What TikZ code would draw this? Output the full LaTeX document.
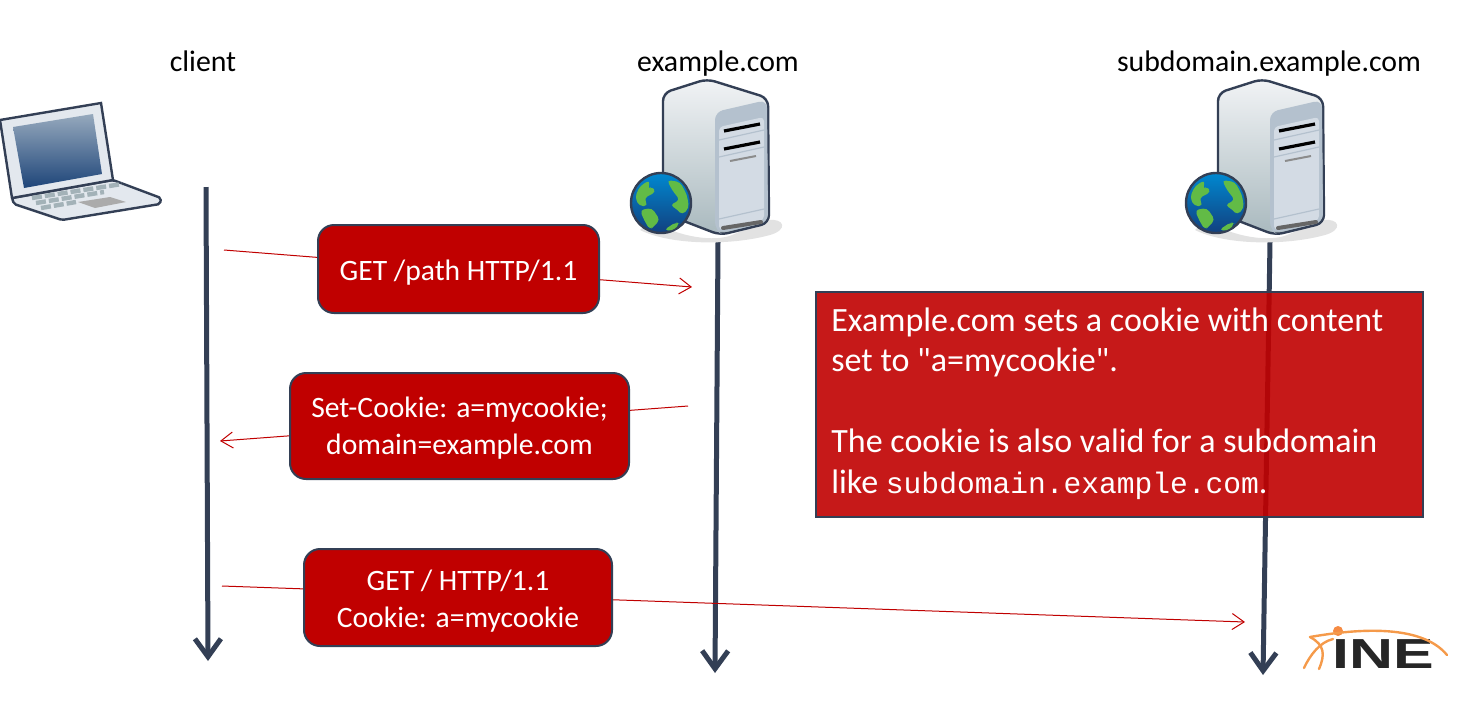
\documentclass[tikz,border=0pt]{standalone}
\usepackage{fontspec}
\setmainfont{Carlito}
\setmonofont{Liberation Mono}
\newfontfamily\notefont{Carlito}
\newfontfamily\logofont{Liberation Sans}
\usetikzlibrary{arrows.meta}
\definecolor{linedark}{HTML}{333F55}
\definecolor{boxred}{HTML}{C00000}
\definecolor{msgred}{HTML}{C00000}
\definecolor{logoorange}{HTML}{F59A4A}
\definecolor{shadowgrey}{HTML}{E2E2E2}
\definecolor{bodytop}{HTML}{F1F3F5}
\definecolor{bodybottom}{HTML}{A9B9BE}
\definecolor{paneltop}{HTML}{B4C1CE}
\definecolor{panellight}{HTML}{D3DBE4}
\definecolor{globetop}{HTML}{0088D0}
\definecolor{globebottom}{HTML}{12407F}
\definecolor{globeland}{HTML}{62BB46}
\definecolor{screentop}{HTML}{96A9BD}
\definecolor{screenbottom}{HTML}{1E4579}
\definecolor{lidgrey}{HTML}{E3E8EE}
\definecolor{keygrey}{HTML}{A3B2B8}
\tikzset{
  lifeline/.style={draw=linedark,line width=2.5pt,-{Straight Barb[length=9pt,width=13pt,line width=2.5pt]}},
  msgline/.style={draw=msgred,line width=0.5pt,-{Straight Barb[length=6pt,width=8pt,line width=0.5pt]}},
  msgbox/.style={draw=linedark,line width=1pt,fill=boxred,rounded corners=8pt,text=white,align=center,font=\fontsize{14.8}{18.2}\selectfont,inner sep=0pt},
  hostlabel/.style={font=\fontsize{14.9}{16}\selectfont,text=black,anchor=base},
  swoosh/.style={draw=logoorange,line width=1.2pt,line cap=round},
  land/.style={fill=globeland,rounded corners=2pt},
  server/.pic={
    \fill[shadowgrey] (30,150) .. controls (60,168) and (95,172) .. (112,165) -- (148,150) .. controls (165,148) and (168,160) .. (150,165) .. controls (110,176) and (50,175) .. (20,160) -- cycle;
    \draw[linedark,line width=1.2pt,top color=bodytop,bottom color=bodybottom,rounded corners=4pt] (43,23) -- (87,9) -- (148,28) -- (149,153) -- (100,165) -- (43,143) -- cycle;
    \fill[paneltop,rounded corners=4pt] (95,42) -- (147,30) -- (148,152) -- (100,163) -- (95,160) -- cycle;
    \fill[panellight,rounded corners=2pt] (99,57) -- (144,47) -- (144,150) -- (99,160) -- cycle;
    \draw[paneltop,line width=0.6pt] (99,70) -- (144,60);
    \draw[paneltop,line width=0.6pt] (99,87) -- (144,77);
    \draw[paneltop,line width=0.6pt] (99,149) -- (144,139);
    \draw[black,line width=1.6pt] (104,61) -- (140,54);
    \draw[black,line width=1.6pt] (104,79) -- (140,72);
    \draw[black!45,line width=1pt] (110,91) -- (136,86);
    \draw[black!60,line width=2pt,line cap=round] (103,158) -- (141,152);
    \draw[linedark,line width=1.2pt,top color=globetop,bottom color=globebottom] (41,133) circle (30);
    \fill[land] (15,127) -- (20,116) -- (30,110) -- (28,120) -- (32,116) -- (36,122) -- (24,128) -- (28,136) -- (19,136) -- cycle;
    \fill[land] (47,110) -- (60,112) -- (67,125) -- (69,138) -- (62,145) -- (58,140) -- (50,135) -- (60,130) -- (52,120) -- cycle;
    \fill[land] (20,140) -- (32,138) -- (40,150) -- (34,156) -- (30,160) -- (24,150) -- cycle;
    \fill[land] (44,160) -- (56,152) -- (60,154) -- (52,161) -- cycle;
  }
}
\begin{document}
\begin{tikzpicture}[x=0.5pt,y=-0.5pt]
\useasboundingbox (0,0) rectangle (1484,709);

\node[hostlabel] (clientlabel) at (203,71) {client};
\node[hostlabel] (examplelabel) at (718,71) {example.com};
\node[hostlabel] (sublabel) at (1269,71) {subdomain.example.com};

\coordinate (clienttop) at (206,187);
\coordinate (clientend) at (208,661);
\coordinate (exampletop) at (718,242);
\coordinate (exampleend) at (715,673);
\coordinate (subtop) at (1270,242);
\coordinate (subend) at (1263,675);

\draw[lifeline] (clienttop) -- (clientend);
\draw[lifeline] (exampletop) -- (exampleend);
\draw[lifeline] (subtop) -- (subend);

\draw[linedark,line width=1.2pt,fill=lidgrey,rounded corners=1pt] (113,180) -- (161,198) -- (160,204) -- (62,220) -- (14,204) -- (12,198) -- cycle;
\draw[linedark,line width=1.2pt,fill=lidgrey] (0,120) -- (101,103) -- (113,180) -- (12,198) -- cycle;
\shade[top color=screentop,bottom color=screenbottom] (13,127) -- (93,114) -- (102,174) -- (24,188) -- cycle;
\draw[keygrey,line width=2.2pt,dash pattern=on 5pt off 1.5pt] (32,198) -- (122,184);
\draw[keygrey,line width=2.2pt,dash pattern=on 5pt off 1.5pt] (36,203) -- (104,192);
\draw[keygrey,line width=2.2pt,dash pattern=on 5pt off 1.5pt] (41,208) -- (76,202);
\fill[black!33] (78,202) -- (110,197) -- (126,202) -- (95,208) -- cycle;

\pic at (620,70) {server};
\pic at (1175,70) {server};

\coordinate (getstart) at (224,250);
\coordinate (getend) at (692,287);
\coordinate (setstart) at (688,406);
\coordinate (setend) at (220,441);
\coordinate (cookiestart) at (222,586);
\coordinate (cookieend) at (1245,622);

\draw[msgline] (getstart) -- (getend);
\draw[msgline] (setstart) -- (setend);
\draw[msgline] (cookiestart) -- (cookieend);

\node[msgbox,minimum width=140.5pt,minimum height=44pt] (getbox) at (458.5,269) {\rule{0pt}{14pt}GET /path HTTP/1.1};
\node[msgbox,minimum width=169.5pt,minimum height=53pt] (setbox) at (459.5,426) {\rule{0pt}{12.5pt}Set-Cookie: a=mycookie;\\domain=example.com};
\node[msgbox,minimum width=154pt,minimum height=48.5pt] (cookiebox) at (458,597.5) {\rule{0pt}{14pt}GET / HTTP/1.1\\Cookie: a=mycookie};

\node[draw=linedark,line width=1pt,fill=boxred,fill opacity=0.9,anchor=north west,minimum width=303.5pt,minimum height=112.5pt,inner sep=0pt] (notebox) at (815,291) {};
\node[text=white,anchor=north west,align=left,inner sep=0pt,font=\notefont\fontsize{17}{20.3}\selectfont] (notetext) at (831,307) {Example.com sets a cookie with content\\set to "a=mycookie".\\[20.3pt]The cookie is also valid for a subdomain\\like {\ttfamily\fontsize{14.8}{20.3}\selectfont subdomain.example.com}.};

\node[text=black!85,inner sep=0pt,font=\logofont\bfseries\fontsize{21}{21}\selectfont,xscale=1.45] (inelogo) at (1383,654) {INE};
\fill[logoorange!90!red] (1338,631) circle (5);
\draw[swoosh] (1310,637) .. controls (1350,630) and (1420,622) .. (1447,655);
\draw[swoosh] (1310,637) .. controls (1325,645) and (1325,655) .. (1319,669);
\draw[swoosh] (1304,668) .. controls (1310,655) and (1320,642) .. (1333,639);
\end{tikzpicture}
\end{document}
